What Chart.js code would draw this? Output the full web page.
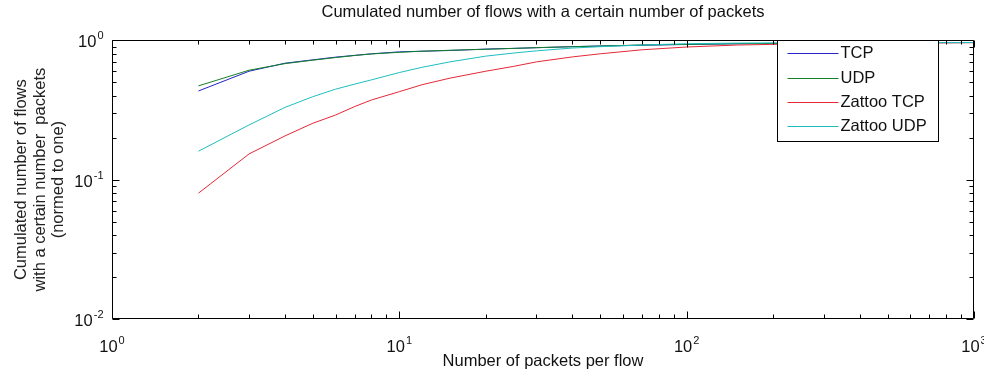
<!DOCTYPE html>
<html><head><meta charset="utf-8">
<script src="https://cdn.jsdelivr.net/npm/chart.js@4/dist/chart.umd.min.js"></script>
<style>html,body{margin:0;padding:0;background:#fff;}canvas{display:block;}</style>
</head><body>
<canvas id="c" width="984" height="369"></canvas>
<script>
// ---- data ----
const packets    = [2,3,4,5,6,7,8,10,12,15,20,25,30,40,50,70,100,150,200,300,500,700,1000];
const tcp        = [0.433,0.600,0.685,0.724,0.757,0.780,0.800,0.826,0.835,0.845,0.865,0.875,0.885,0.900,0.910,0.922,0.933,0.945,0.950,0.955,0.960,0.962,0.964];
const udp        = [0.471,0.610,0.680,0.720,0.752,0.778,0.798,0.820,0.835,0.848,0.862,0.875,0.885,0.900,0.910,0.925,0.935,0.945,0.950,0.955,0.960,0.962,0.964];
const zattooTcp  = [0.080,0.153,0.206,0.254,0.291,0.335,0.373,0.428,0.480,0.535,0.600,0.650,0.700,0.760,0.800,0.855,0.895,0.925,0.935,0.945,0.955,0.958,0.962];
const zattooUdp  = [0.160,0.247,0.330,0.394,0.446,0.485,0.520,0.587,0.640,0.700,0.770,0.810,0.840,0.880,0.900,0.925,0.945,0.955,0.958,0.960,0.962,0.963,0.964];
const seriesNames  = ['TCP','UDP','Zattoo TCP','Zattoo UDP'];
const seriesColors = ['rgb(36,36,200)','rgb(20,128,40)','rgb(228,40,55)','rgb(30,190,190)'];
const xDecades   = [1,10,100,1000];
const xTickExps  = ['0','1','2','3'];
const yDecades   = [0.01,0.1,1];
const yTickExps  = ['-2','-1','0'];
const tickBase   = '10';
const titleText = 'Cumulated number of flows with a certain number of packets';
const xTitle = 'Number of packets per flow';
const yTitle = ['Cumulated number of flows','with a certain number  packets','(normed to one)'];

const FONT = "'Liberation Sans', Arial, sans-serif";
const FS = 16.5;
const allSeries = [tcp, udp, zattooTcp, zattooUdp];
const datasets = allSeries.map((vals, i) => ({
  label: seriesNames[i],
  data: packets.map((p, k) => ({x: p, y: vals[k]})),
  borderColor: seriesColors[i],
  backgroundColor: seriesColors[i],
  borderWidth: 1,
  pointRadius: 0,
  tension: 0,
  fill: false,
  order: allSeries.length - i
}));

function logTickValues(min, max) {
  const out = [];
  const e0 = Math.floor(Math.log10(min) + 1e-9), e1 = Math.ceil(Math.log10(max) - 1e-9);
  for (let e = e0; e <= e1; e++) {
    for (let m = 1; m <= 9; m++) {
      const v = m * Math.pow(10, e);
      if (v >= min * (1 - 1e-9) && v <= max * (1 + 1e-9)) out.push({v, major: m === 1});
    }
  }
  return out;
}

// draws "10" with a raised exponent; yc = vertical centre of the "10"
function drawPower(ctx, exp, x, yc, align) {
  const bigFont = FS + 'px ' + FONT, smallFont = '11px ' + FONT;
  ctx.font = bigFont;
  const wb = ctx.measureText(tickBase).width;
  ctx.font = smallFont;
  const we = ctx.measureText(exp).width;
  const total = wb + we + 1;
  const x0 = align === 'right' ? x - total : x - total / 2;
  const base = yc + 6;
  ctx.textAlign = 'left';
  ctx.textBaseline = 'alphabetic';
  ctx.font = bigFont;
  ctx.fillText(tickBase, x0, base);
  ctx.font = smallFont;
  ctx.fillText(exp, x0 + wb + 1, base - 8);
}

const framePlugin = {
  id: 'frame',
  afterDatasetsDraw(chart) {
    const {ctx, chartArea: a, scales: {x, y}} = chart;
    const L = Math.round(a.left) + 0.5, R = Math.round(a.right) - 0.5;
    const T = Math.round(a.top) + 0.5, B = Math.round(a.bottom) - 0.5;
    ctx.save();
    ctx.strokeStyle = '#000';
    ctx.lineWidth = 1;
    ctx.beginPath();
    ctx.rect(L, T, R - L, B - T);
    for (const t of logTickValues(x.min, x.max)) {
      const px = Math.round(x.getPixelForValue(t.v)) + 0.5;
      const len = t.major ? 7 : 4;
      ctx.moveTo(px, B); ctx.lineTo(px, B - len);
      ctx.moveTo(px, T); ctx.lineTo(px, T + len);
    }
    for (const t of logTickValues(y.min, y.max)) {
      const py = Math.round(y.getPixelForValue(t.v)) + 0.5;
      const len = t.major ? 7 : 4;
      ctx.moveTo(L, py); ctx.lineTo(L + len, py);
      ctx.moveTo(R, py); ctx.lineTo(R - len, py);
    }
    ctx.stroke();
    // tick labels at the library's decade tick positions
    ctx.fillStyle = '#111';
    x.ticks.forEach((t, i) => {
      drawPower(ctx, xTickExps[i], x.getPixelForValue(t.value), B + 27, 'center');
    });
    y.ticks.forEach((t, i) => {
      drawPower(ctx, yTickExps[i], L - 9, y.getPixelForValue(t.value) + 1, 'right');
    });
    ctx.restore();
  },
  afterDraw(chart) {
    const {ctx, chartArea: a} = chart;
    const bx = Math.round(a.right) - 197 + 0.5, bw = 161;
    const by = Math.round(a.top) + 0.5, bh = 101;
    ctx.save();
    ctx.fillStyle = '#fff';
    ctx.fillRect(bx, by, bw, bh);
    ctx.strokeStyle = '#000';
    ctx.lineWidth = 1;
    ctx.strokeRect(bx, by, bw, bh);
    ctx.font = FS + 'px ' + FONT;
    ctx.textBaseline = 'middle';
    ctx.textAlign = 'left';
    seriesNames.forEach((name, i) => {
      const yy = Math.round(a.top + 13 + i * 24.4) + 0.5;
      ctx.strokeStyle = seriesColors[i];
      ctx.beginPath();
      ctx.moveTo(bx + 10, yy); ctx.lineTo(bx + 61, yy);
      ctx.stroke();
      ctx.fillStyle = '#111';
      ctx.fillText(name, bx + 63, yy);
    });
    ctx.restore();
  }
};

new Chart(document.getElementById('c'), {
  type: 'line',
  data: {datasets},
  options: {
    responsive: false,
    animation: false,
    devicePixelRatio: 1,
    layout: {padding: {left: 0, right: 10, top: 0, bottom: 0}},
    plugins: {
      legend: {display: false},
      tooltip: {enabled: false},
      title: {
        display: true,
        text: titleText,
        fullSize: false,
        color: '#111',
        font: {family: FONT, size: FS, weight: 'normal', lineHeight: 1.2},
        padding: {top: 3, bottom: 17.5}
      }
    },
    scales: {
      x: {
        type: 'logarithmic',
        min: 1, max: 1000,
        grid: {display: false, drawTicks: false},
        border: {display: false},
        afterBuildTicks: (s) => { s.ticks = xDecades.map(v => ({value: v, major: true})); },
        afterFit: (s) => { s.height = 50; s.paddingLeft = 0; s.paddingRight = 0; },
        ticks: {display: false, autoSkip: false, maxRotation: 0, minRotation: 0},
        title: {
          display: true, text: xTitle, color: '#111',
          font: {family: FONT, size: FS, lineHeight: 0.625},
          padding: {top: 0, bottom: 2}
        }
      },
      y: {
        type: 'logarithmic',
        min: 0.01, max: 1,
        grid: {display: false, drawTicks: false},
        border: {display: false},
        afterBuildTicks: (s) => { s.ticks = yDecades.map(v => ({value: v, major: true})); },
        afterFit: (s) => { s.width = 112; s.paddingTop = 0; s.paddingBottom = 0; },
        ticks: {display: false, autoSkip: false},
        title: {
          display: true, text: yTitle, color: '#222',
          font: {family: FONT, size: FS, lineHeight: 1.15},
          padding: {top: 11.5, bottom: 0}
        }
      }
    }
  },
  plugins: [framePlugin]
});
</script>
</body></html>
